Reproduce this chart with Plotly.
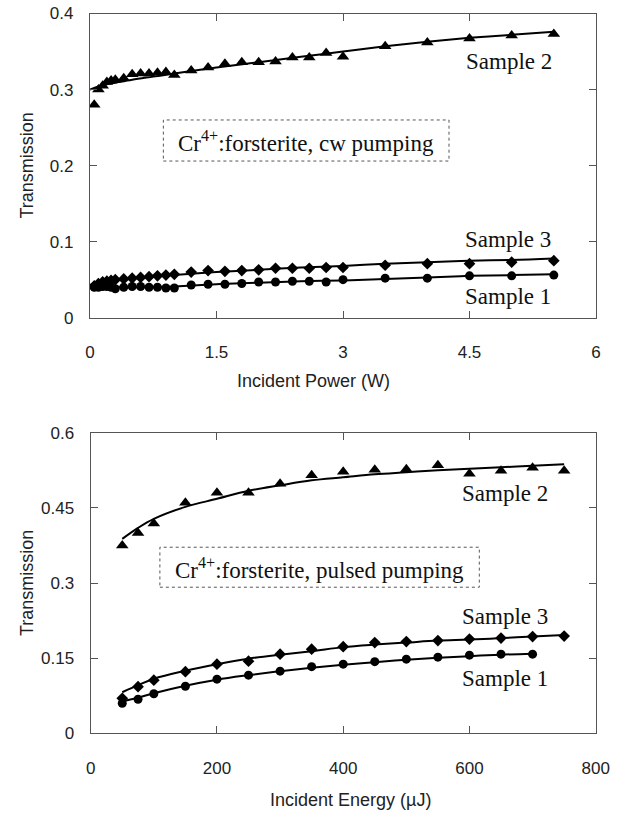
import plotly.graph_objects as go

# ---------------- Top panel (cw pumping) ----------------
cw_x = [0.05, 0.1, 0.15, 0.2, 0.25, 0.3, 0.4, 0.5, 0.6, 0.7, 0.8, 0.9, 1.0,
        1.2, 1.4, 1.6, 1.8, 2.0, 2.2, 2.4, 2.6, 2.8, 3.0, 3.5, 4.0, 4.5, 5.0, 5.5]
cw_s2 = [0.280, 0.300, 0.305, 0.310, 0.312, 0.313, 0.315, 0.320, 0.321, 0.321, 0.322, 0.323, 0.319,
         0.325, 0.329, 0.334, 0.336, 0.336, 0.337, 0.342, 0.342, 0.348, 0.343, 0.357, 0.362, 0.367, 0.371, 0.373]
cw_s3 = [0.042, 0.045, 0.047, 0.048, 0.049, 0.050, 0.051, 0.052, 0.053, 0.054, 0.055, 0.056, 0.057,
         0.060, 0.062, 0.061, 0.062, 0.063, 0.065, 0.065, 0.065, 0.066, 0.066, 0.069, 0.071, 0.071, 0.073, 0.075]
cw_s1 = [0.040, 0.040, 0.041, 0.041, 0.040, 0.038, 0.040, 0.041, 0.041, 0.040, 0.040, 0.039, 0.039,
         0.043, 0.044, 0.044, 0.045, 0.047, 0.047, 0.048, 0.048, 0.047, 0.050, 0.052, 0.052, 0.055, 0.055, 0.056]

cw_fit_x = [0.0, 0.05, 0.1, 0.2, 0.3, 0.5, 0.75, 1.0, 1.5, 2.0, 2.5, 3.0, 3.5, 4.0, 4.5, 5.0, 5.5]
cw_fit_s2 = [0.300, 0.302, 0.304, 0.307, 0.309, 0.313, 0.317, 0.321, 0.329, 0.336, 0.343, 0.350, 0.357, 0.363, 0.368, 0.372, 0.376]
cw_fit_s3 = [0.043, 0.045, 0.047, 0.049, 0.050, 0.052, 0.054, 0.056, 0.060, 0.063, 0.066, 0.068, 0.071, 0.073, 0.075, 0.076, 0.078]
cw_fit_s1 = [0.040, 0.040, 0.040, 0.040, 0.040, 0.040, 0.040, 0.041, 0.044, 0.046, 0.048, 0.049, 0.051, 0.053, 0.055, 0.056, 0.057]

# ---------------- Bottom panel (pulsed pumping) ----------------
pl_x = [50, 75, 100, 150, 200, 250, 300, 350, 400, 450, 500, 550, 600, 650, 700, 750]
pl_s2 = [0.375, 0.400, 0.419, 0.460, 0.480, 0.480, 0.498, 0.515, 0.522, 0.526, 0.527, 0.535, 0.518, 0.524, 0.530, 0.524]
pl_s3 = [0.070, 0.093, 0.106, 0.123, 0.138, 0.144, 0.158, 0.168, 0.173, 0.181, 0.183, 0.185, 0.188, 0.190, 0.193, 0.194]
pl_x1 = [50, 75, 100, 150, 200, 250, 300, 350, 400, 450, 500, 550, 600, 650, 700]
pl_s1 = [0.060, 0.068, 0.079, 0.094, 0.108, 0.116, 0.124, 0.133, 0.138, 0.143, 0.148, 0.152, 0.156, 0.158, 0.158]

pl_fit_x = [50, 75, 100, 150, 200, 250, 300, 350, 400, 450, 500, 550, 600, 650, 700, 750]
pl_fit_s2 = [0.388, 0.410, 0.428, 0.452, 0.468, 0.484, 0.495, 0.505, 0.511, 0.517, 0.521, 0.525, 0.528, 0.531, 0.534, 0.537]
pl_fit_s3 = [0.082, 0.096, 0.109, 0.125, 0.138, 0.149, 0.157, 0.164, 0.172, 0.177, 0.181, 0.185, 0.187, 0.190, 0.193, 0.196]
pl_fit_x1 = [50, 75, 100, 150, 200, 250, 300, 350, 400, 450, 500, 550, 600, 650, 700]
pl_fit_s1 = [0.064, 0.071, 0.080, 0.095, 0.107, 0.116, 0.124, 0.131, 0.137, 0.142, 0.147, 0.151, 0.154, 0.157, 0.159]

top_xticks = [0, 1.5, 3, 4.5, 6]
top_yticks = [0, 0.1, 0.2, 0.3, 0.4]
bot_xticks = [0, 200, 400, 600, 800]
bot_yticks = [0, 0.15, 0.3, 0.45, 0.6]

# page layout: the figure fills the whole window (body margin removed below)
OFF = 0
W, H = 625, 814

def fx(px):
    return (px - OFF) / W

def fy(py):
    return 1 - (py - OFF) / H

fig = go.Figure()

def add_series(x, y, fxs, fys, symbol, size, xa, ya):
    fig.add_trace(go.Scatter(x=fxs, y=fys, mode="lines", line=dict(color="black", width=2, shape="spline"),
                             xaxis=xa, yaxis=ya, showlegend=False, hoverinfo="skip"))
    fig.add_trace(go.Scatter(x=x, y=y, mode="markers", marker=dict(symbol=symbol, size=size, color="black"),
                             xaxis=xa, yaxis=ya, showlegend=False))

add_series(cw_x, cw_s2, cw_fit_x, cw_fit_s2, "triangle-up", 11, "x", "y")
add_series(cw_x, cw_s3, cw_fit_x, cw_fit_s3, "diamond", 9, "x", "y")
add_series(cw_x, cw_s1, cw_fit_x, cw_fit_s1, "circle", 9, "x", "y")
add_series(pl_x, pl_s2, pl_fit_x, pl_fit_s2, "triangle-up", 11, "x2", "y2")
add_series(pl_x, pl_s3, pl_fit_x, pl_fit_s3, "diamond", 9, "x2", "y2")
add_series(pl_x1, pl_s1, pl_fit_x1, pl_fit_s1, "circle", 9, "x2", "y2")

axis_common = dict(showgrid=False, zeroline=False, showline=True, linecolor="#555", linewidth=1.3,
                   mirror="allticks", ticks="inside", ticklen=7, tickcolor="#555", tickwidth=1,
                   automargin=False,
                   tickfont=dict(family="Liberation Sans, Arial", size=17, color="#222"))

fig.update_layout(
    width=W, height=H, margin=dict(l=0, r=0, t=0, b=0),
    paper_bgcolor="white", plot_bgcolor="white",
    xaxis=dict(domain=[fx(90), fx(596)], anchor="y", range=[0, 6], tickvals=top_xticks,
               ticktext=["0", "1.5", "3", "4.5", "6"], ticklabelstandoff=19, **axis_common),
    yaxis=dict(domain=[fy(317.7), fy(13.5)], anchor="x", range=[0, 0.4], tickvals=top_yticks,
               ticktext=["0", "0.1", "0.2", "0.3", "0.4"], ticklabelstandoff=12, **axis_common),
    xaxis2=dict(domain=[fx(90.7), fx(595.7)], anchor="y2", range=[0, 800], tickvals=bot_xticks,
                ticktext=["0", "200", "400", "600", "800"], ticklabelstandoff=19, **axis_common),
    yaxis2=dict(domain=[fy(733.3), fy(432.7)], anchor="x2", range=[0, 0.6], tickvals=bot_yticks,
                ticktext=["0", "0.15", "0.3", "0.45", "0.6"], ticklabelstandoff=12, **axis_common),
)

sans = dict(family="Liberation Sans, Arial", size=18, color="#222")
serif = dict(family="Liberation Serif, Times New Roman", size=23, color="#111")

# axis titles (page pixel positions)
titles = [("Transmission", 27, 165.6, -90),
          ("Transmission", 27, 583, -90),
          ("Incident Power (W)", 313, 381, 0),
          ("Incident Energy (\u00b5J)", 350, 800, 0)]
for t, px, py, ang in titles:
    fig.add_annotation(text=t, x=fx(px), y=fy(py), xref="paper", yref="paper",
                       showarrow=False, textangle=ang, font=sans,
                       xanchor="center", yanchor="middle")

# sample labels
labels = [("Sample 2", "x domain", "y domain", 0.828, 0.8416),
          ("Sample 3", "x domain", "y domain", 0.826, 0.2577),
          ("Sample 1", "x domain", "y domain", 0.826, 0.069),
          ("Sample 2", "x2 domain", "y2 domain", 0.820, 0.798),
          ("Sample 3", "x2 domain", "y2 domain", 0.820, 0.388),
          ("Sample 1", "x2 domain", "y2 domain", 0.820, 0.183)]
for t, xr, yr, xx, yy in labels:
    fig.add_annotation(text=t, x=xx, y=yy, xref=xr, yref=yr, showarrow=False, font=serif,
                       xanchor="center", yanchor="middle")

# boxed descriptions
fig.add_shape(type="rect", xref="x domain", yref="y domain", x0=0.145, x1=0.7095, y0=0.515, y1=0.650,
              line=dict(color="#555", width=1, dash="dot"), fillcolor="white", layer="below")
fig.add_annotation(text="Cr<sup>4+</sup>:forsterite, cw pumping", x=0.427, y=0.580,
                   xref="x domain", yref="y domain", showarrow=False, font=serif,
                   xanchor="center", yanchor="middle")
fig.add_shape(type="rect", xref="x2 domain", yref="y2 domain", x0=0.137, x1=0.7695, y0=0.486, y1=0.619,
              line=dict(color="#555", width=1, dash="dot"), fillcolor="white", layer="below")
fig.add_annotation(text="Cr<sup>4+</sup>:forsterite, pulsed pumping", x=0.453, y=0.548,
                   xref="x2 domain", yref="y2 domain", showarrow=False, font=serif,
                   xanchor="center", yanchor="middle")

fig.write_html("out.html", config={"displayModeBar": False},
               post_script="document.body.style.margin='0';document.body.style.overflow='hidden';")
